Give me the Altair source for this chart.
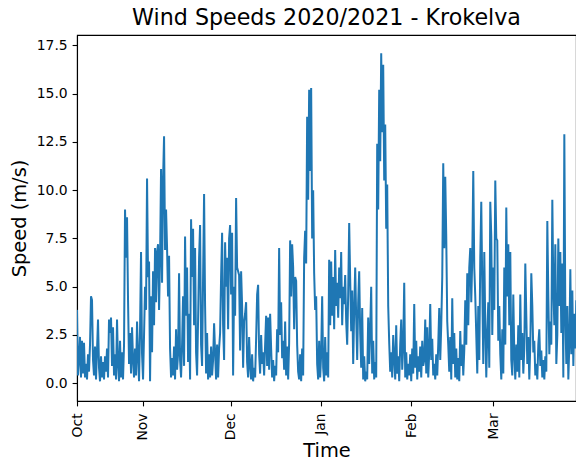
import altair as alt
import pandas as pd

# Wind speed readings (m/s) at ~8 h spacing
speeds_oct = [
    3.8, 0.4, 1.2, 2.4, 0.3, 2.2, 0.5, 2.1, 0.3, 1.0, 0.2, 1.5,
    0.6, 2.0, 4.5, 4.3, 1.2, 0.4, 1.9, 0.2, 1.7, 3.3, 0.8, 0.1,
    1.4, 0.3, 1.1, 0.2, 1.4, 0.6, 1.8, 0.3, 3.3, 2.6, 3.4, 0.9,
    2.9, 0.4, 1.5, 0.2, 3.3, 1.0, 0.1, 2.2, 0.3, 1.6, 0.2, 2.0,
    9.0, 6.5, 8.6, 4.3, 1.0, 2.6, 0.5, 2.9, 1.2, 0.3, 1.8, 0.4,
    3.2, 1.4, 0.1, 2.8, 6.8, 1.5,
]
speeds_nov = [
    0.2, 2.5, 5.0, 3.8, 10.6, 5.5, 6.3, 0.1, 4.5, 1.6, 5.8, 3.0,
    7.0, 4.2, 6.8, 7.2, 3.8, 6.5, 11.1, 5.2, 10.5, 12.8, 6.9, 9.0,
    7.0, 4.5, 6.6, 1.8, 0.3, 1.3, 0.4, 1.9, 0.2, 2.8, 0.7, 1.5,
    5.7, 1.2, 0.3, 2.0, 4.5, 0.9, 7.6, 3.5, 6.0, 1.1, 3.6, 0.2,
    8.5, 5.5, 8.0, 3.0, 7.0, 1.6, 0.4, 3.3, 6.5, 8.2, 2.0, 0.9,
    5.5, 9.8, 4.0, 0.5, 2.6, 0.2, 1.5, 0.3, 1.9, 0.4, 1.2, 3.1,
    1.6, 0.2, 2.0, 0.3, 1.8, 2.6, 5.5, 7.8, 3.0, 1.2, 7.3, 5.0,
    6.5, 2.8, 7.5,
]
speeds_dec = [
    8.2, 4.6, 7.8, 0.4, 5.0, 3.5, 9.6, 6.0, 5.8, 5.6, 1.7, 5.8,
    4.0, 0.8, 3.2, 3.6, 4.2, 1.1, 0.3, 2.4, 0.9, 0.2, 1.5, 0.1,
    0.8, 0.3, 2.3, 4.6, 5.1, 1.5, 0.5, 2.5, 1.0, 1.6, 0.4, 2.0,
    3.5, 0.9, 3.4, 0.7, 3.6, 1.8, 0.3, 1.2, 0.1, 0.9, 0.4, 2.8,
    1.6, 7.0, 2.5, 4.2, 1.3, 2.2, 0.7, 3.2, 0.4, 1.9, 0.2, 2.1,
    7.4, 4.5, 7.2, 6.0, 2.8, 5.5, 5.3, 2.0, 0.6, 0.2, 1.5, 0.1,
    1.8, 0.4, 6.5, 7.9, 6.2, 13.8, 9.5, 15.2, 11.0, 15.3, 7.5, 10.0,
    5.7, 3.8, 4.5, 1.0, 0.2, 2.2,
]
speeds_jan = [
    0.3, 1.5, 4.5, 0.8, 0.1, 2.4, 0.4, 1.6, 0.3, 6.4, 3.0, 6.3,
    3.5, 5.5, 2.8, 6.9, 4.0, 5.2, 3.4, 6.0, 4.4, 6.8, 3.0, 5.0,
    4.1, 5.6, 3.2, 2.0, 4.6, 8.3, 5.4, 2.7, 4.8, 1.0, 3.8, 6.0,
    3.4, 1.2, 4.2, 5.8, 2.6, 0.8, 3.9, 0.2, 1.4, 0.1, 0.6, 0.2,
    3.4, 1.0, 2.8, 5.0, 0.5, 2.2, 0.2, 1.1, 0.3, 12.4, 9.0, 15.2,
    11.5, 17.1, 13.0, 16.5, 10.5, 13.4, 8.0, 10.3, 4.0, 2.1, 0.6, 1.6,
    0.3, 2.5, 1.3, 0.2, 3.0, 0.5, 1.4, 0.1, 2.0, 3.3, 0.7, 1.9,
    5.2, 0.3, 1.6, 0.2, 1.0, 0.4,
]
speeds_feb = [
    1.5, 0.1, 1.8, 0.5, 4.1, 0.8, 2.2, 0.2, 1.4, 0.6, 1.9, 0.3,
    2.2, 0.9, 1.2, 3.3, 0.5, 2.9, 0.3, 1.6, 4.1, 1.2, 2.3, 0.4,
    1.0, 0.2, 1.5, 0.4, 2.0, 3.9, 1.2, 3.0, 5.5, 11.4, 7.0, 10.7,
    7.6, 3.2, 2.0, 0.6, 2.4, 0.2, 4.4, 1.0, 2.6, 0.3, 1.8, 0.2,
    1.3, 0.1, 2.7, 0.9, 2.0, 0.4, 1.7, 4.3, 2.0, 5.7, 3.0, 6.0,
    7.0, 4.2, 6.5, 11.0, 6.0, 4.5, 2.5, 0.5, 4.0, 1.2, 6.5, 9.4,
    5.0, 1.0, 6.8, 3.0, 0.3, 2.6, 4.2, 0.8, 9.4,
]
speeds_mar = [
    7.6, 2.5, 6.0, 3.8, 10.5, 7.5, 7.4, 2.2, 4.0, 1.5, 0.2, 2.8,
    0.5, 6.0, 2.0, 9.1, 4.5, 7.2, 3.0, 6.8, 1.2, 0.4, 4.6, 1.5,
    0.2, 2.0, 0.6, 3.0, 0.3, 4.6, 1.2, 2.6, 0.5, 1.8, 6.2, 3.5,
    1.0, 2.4, 0.2, 2.0, 5.7, 4.0, 1.6, 2.2, 0.4, 1.0, 0.2, 2.0,
    2.8, 0.9, 1.7, 0.3, 1.2, 0.2, 1.4, 0.6, 8.4, 4.5, 1.5, 3.2,
    2.0, 9.5, 5.0, 3.0, 7.2, 1.0, 2.5, 7.5, 4.0, 6.8, 2.6, 6.2,
    0.3, 12.9, 3.5, 1.0, 4.0, 0.2, 2.0, 5.9, 1.5, 4.8, 0.9, 3.6,
    1.8, 4.3, 0.4, 2.5, 3.2, 0.6, 5.0, 1.2, 2.7,
]

speeds = speeds_oct + speeds_nov + speeds_dec + speeds_jan + speeds_feb + speeds_mar
times = pd.date_range("2020-10-09 09:00", periods=len(speeds), freq="494min")
df = pd.DataFrame({"time": times, "speed": speeds})

y_ticks = [0.0, 2.5, 5.0, 7.5, 10.0, 12.5, 15.0, 17.5]
x_ticks = [
    alt.DateTime(year=2020, month=10, date=9, hours=9),
    alt.DateTime(year=2020, month=11, date=1),
    alt.DateTime(year=2020, month=12, date=1),
    alt.DateTime(year=2021, month=1, date=1),
    alt.DateTime(year=2021, month=2, date=1),
    alt.DateTime(year=2021, month=3, date=1),
]

chart = alt.Chart(df).mark_line(color="#1f77b4", strokeWidth=2, clip=True).encode(
    x=alt.X(
        "time:T",
        scale=alt.Scale(
            domain=[
                alt.DateTime(year=2020, month=10, date=9, hours=9),
                alt.DateTime(year=2021, month=3, date=29, hours=10, minutes=40),
            ],
            nice=False,
        ),
        axis=alt.Axis(
            values=x_ticks,
            labelExpr="timeFormat(datum.value, '%b')",
            labelAngle=-90,
            labelPadding=7,
            title="Time",
            titlePadding=1,
        ),
    ),
    y=alt.Y(
        "speed:Q",
        scale=alt.Scale(domain=[-0.92, 18.04], nice=False, zero=False),
        axis=alt.Axis(values=y_ticks, format=".1f", title="Speed (m/s)", titlePadding=7),
    ),
).properties(
    width=499,
    height=366,
    autosize=alt.AutoSizeParams(type="none"),
    padding={"left": 69, "top": 27, "right": 0, "bottom": 58},
    title=alt.Title(
        "Wind Speeds 2020/2021 - Krokelva",
        fontSize=22.2,
        font="DejaVu Sans",
        fontWeight="normal",
        color="black",
        anchor="middle",
        baseline="alphabetic",
        offset=-12,
    ),
).configure_view(
    stroke="black", strokeWidth=1.1
).configure_axis(
    grid=False,
    domainColor="black",
    domainWidth=1.1,
    tickColor="black",
    tickWidth=1.1,
    tickSize=4.9,
    labelColor="black",
    titleColor="black",
    labelFont="DejaVu Sans",
    titleFont="DejaVu Sans",
    labelFontSize=13.9,
    titleFontSize=19.4,
    titleFontWeight="normal",
    labelPadding=4.9,
)

chart.save("out.html", embed_options={"renderer": "svg", "actions": False})
